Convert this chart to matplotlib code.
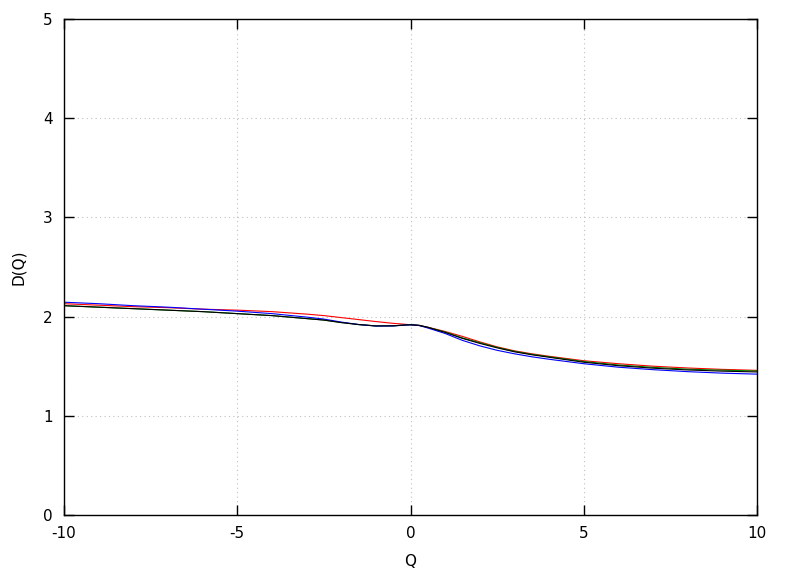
import matplotlib
matplotlib.use('Agg')
import matplotlib.pyplot as plt

q = [-10, -9, -8, -7, -6, -5, -4, -3, -2.5, -2, -1.5, -1, -0.5, -0.25, 0, 0.25,
     0.5, 1, 1.5, 2, 2.5, 3, 3.5, 4, 5, 6, 7, 8, 9, 10]

d_red = [2.13, 2.115, 2.10, 2.09, 2.075, 2.065, 2.05, 2.025, 2.01, 1.99, 1.97, 1.95, 1.932, 1.925, 1.918, 1.91,
         1.893, 1.85, 1.80, 1.745, 1.695, 1.655, 1.625, 1.60, 1.555, 1.525, 1.50, 1.482, 1.468, 1.458]
d_green = [2.11, 2.095, 2.08, 2.065, 2.05, 2.03, 2.01, 1.98, 1.965, 1.94, 1.92, 1.906, 1.907, 1.913, 1.918, 1.912,
           1.892, 1.845, 1.785, 1.737, 1.69, 1.65, 1.62, 1.595, 1.547, 1.512, 1.488, 1.47, 1.46, 1.452]
d_blue = [2.145, 2.13, 2.11, 2.095, 2.075, 2.055, 2.03, 1.995, 1.975, 1.945, 1.92, 1.905, 1.906, 1.912, 1.918, 1.91,
          1.885, 1.83, 1.76, 1.705, 1.66, 1.625, 1.595, 1.57, 1.525, 1.49, 1.465, 1.445, 1.43, 1.42]
d_black = [2.11, 2.095, 2.08, 2.065, 2.05, 2.03, 2.01, 1.98, 1.965, 1.94, 1.92, 1.906, 1.907, 1.913, 1.918, 1.912,
           1.892, 1.84, 1.78, 1.73, 1.685, 1.645, 1.615, 1.59, 1.54, 1.505, 1.48, 1.462, 1.45, 1.442]

plt.rcParams['font.family'] = ['DejaVu Sans']
plt.rcParams['axes.unicode_minus'] = False

fig = plt.figure(figsize=(7.88, 5.76), dpi=100)
ax = fig.add_axes([64 / 788, 61 / 576, 693 / 788, 496 / 576])

ax.plot(q, d_red, color='red', lw=0.8)
ax.plot(q, d_green, color='green', lw=0.8)
ax.plot(q, d_blue, color='blue', lw=0.8)
ax.plot(q, d_black, color='black', lw=0.8)

ax.set_xlim(-10, 10)
ax.set_ylim(0, 5)
ax.set_xticks([-10, -5, 0, 5, 10])
ax.set_yticks([0, 1, 2, 3, 4, 5])
ax.grid(True, color='#c0c0c0', linestyle=(0, (1, 3)), lw=0.8)
ax.tick_params(direction='in', length=7, width=1, top=True, right=True, labelsize=11, pad=8)
for s in ax.spines.values():
    s.set_linewidth(1)
ax.set_xlabel('Q', fontsize=11, labelpad=9)
ax.set_ylabel('D(Q)', fontsize=11, labelpad=12)

fig.savefig('out.png', dpi=100)
